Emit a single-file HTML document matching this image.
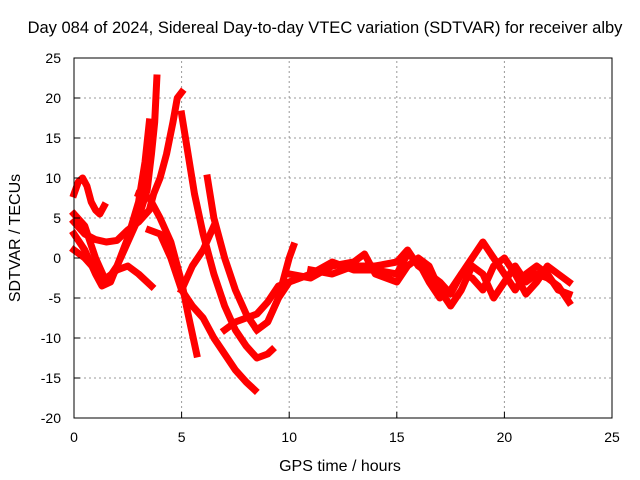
<!DOCTYPE html>
<html><head><meta charset="utf-8"><style>
body{margin:0;background:#fff}
svg{display:block;font-family:"Liberation Sans",sans-serif}
</style></head><body>
<svg id="chart" width="640" height="480" viewBox="0 0 640 480">
<rect width="640" height="480" fill="#fff"/>
<text x="325" y="33" font-size="16.5" text-anchor="middle">Day 084 of 2024, Sidereal Day-to-day VTEC variation (SDTVAR) for receiver alby</text>
<g id="grid"></g>
<g id="series"></g>
<rect x="74" y="58" width="538" height="360" fill="none" stroke="#000" stroke-width="1"/>
<g id="ticks"></g>
<text x="340" y="471" font-size="16" text-anchor="middle">GPS time / hours</text>
<text transform="translate(20,238) rotate(-90)" font-size="16" text-anchor="middle">SDTVAR / TECUs</text>
</svg>
<script>
const xTicks=[0,5,10,15,20,25];
const yTicks=[-20,-15,-10,-5,0,5,10,15,20,25];
const trackA=[[0,8],[0.2,9.5],[0.4,10],[0.6,9],[0.8,7],[1.0,6],[1.2,5.5],[1.4,6.5]];
const trackB=[[0,4.5],[0.5,3],[1,2.3],[1.5,2],[2,2.2],[2.5,3.5],[3,4.5],[3.5,6],[3.7,8],[4,10],[4.3,13],[4.6,17],[4.8,20],[5,20.7]];
const trackC=[[0,5.5],[0.5,4],[1,0],[1.5,-3],[2,-1],[2.5,2],[3,5],[3.4,8.5],[3.6,13],[3.75,17],[3.85,22.5]];
const trackD=[[0,3],[0.5,1],[1,-2],[1.3,-3.5],[1.7,-3],[2,-1],[2.5,2.5],[3,7],[3.3,12],[3.5,17]];
const trackE=[[0,1],[0.5,0],[1,-1.5],[1.5,-2.5],[2,-1.5],[2.5,-1],[3,-2],[3.6,-3.5]];
const trackF=[[3,8],[3.5,7.5],[4,5],[4.5,2],[5,-3],[5.3,-7],[5.7,-12]];
const trackG=[[3.5,3.5],[4,3],[4.5,0],[5,-4],[5.5,-6],[6,-7.5],[6.5,-10],[7,-12],[7.5,-14],[8,-15.5],[8.4,-16.5]];
const trackH=[[5,18],[5.3,13],[5.6,8],[6,3],[6.5,-2],[7,-6],[7.5,-9],[8,-11],[8.5,-12.5],[9,-12],[9.2,-11.5]];
const trackI=[[6.2,10],[6.5,5],[7,0],[7.5,-4],[8,-7],[8.5,-9],[9,-8],[9.5,-5],[10,0],[10.2,1.5]];
const trackJ=[[5,-4],[5.5,-1],[6,1],[6.5,4]];
const trackK=[[7,-9],[7.5,-8],[8,-7.5],[8.5,-7],[9,-5.5],[9.5,-3.5],[10,-3],[10.5,-2.5]];
const trackL1=[[8.5,-9],[9,-8],[9.5,-5],[10,-3],[11,-2],[12,-0.5],[13,-1.5],[14,-1.5],[15,-2],[15.5,0.5],[16,-0.5],[16.5,-3],[17,-5],[17.5,-4],[18,-2],[18.5,0],[19,2],[19.5,0],[20,-2],[20.5,-4],[21,-2],[21.5,-1],[22,-2],[22.5,-4],[23,-4.5]];
const trackL2=[[10,-2],[11,-2.5],[12,-1],[13,-0.5],[13.5,0.5],[14,-2],[15,-3],[15.5,-1],[16,0],[16.5,-1],[17,-4],[17.5,-6],[18,-4],[18.5,-1],[19,-2],[19.5,-5],[20,-3],[20.5,-1],[21,-3],[21.5,-2],[22,-2.5],[22.5,-3.5],[23,-5.5]];
const trackL3=[[11,-1.5],[12,-2],[13,-1],[14,-1],[15,-0.5],[15.5,1],[16,-1],[16.5,-2],[17,-3],[17.5,-4.5],[18,-2],[18.5,-2.5],[19,-4],[19.5,-1],[20,0],[20.5,-2],[21,-4.5],[21.5,-3],[22,-1],[22.5,-2],[23,-3]];
const tracks=[trackA,trackB,trackC,trackD,trackE,trackF,trackG,trackH,trackI,trackJ,trackK,trackL1,trackL2,trackL3];
const X0=74,X1=612,Y0=418,Y1=58;
function sx(v){return X0+(v-0)/(25-0)*(X1-X0);}
function sy(v){return Y0-(v+20)/(45)*(Y0-Y1);}
const NS="http://www.w3.org/2000/svg";
const grid=document.getElementById('grid'),ticks=document.getElementById('ticks'),ser=document.getElementById('series');
function mk(tag,attrs,parent){const e=document.createElementNS(NS,tag);for(const k in attrs)e.setAttribute(k,attrs[k]);parent.appendChild(e);return e;}
xTicks.forEach(t=>{
  const x=sx(t);
  if(t>0&&t<25){const g=mk('line',{x1:x,x2:x,y1:Y0,y2:Y1,stroke:'#999','stroke-dasharray':'2,3'},grid);
  
  }
  const l=mk('text',{x:x,y:Y0+24,'font-size':14,'text-anchor':'middle'},ticks);l.textContent=t;
  
  
  mk('line',{x1:x,x2:x,y1:Y0,y2:Y0-6,stroke:'#000'},ticks);
});
yTicks.forEach(t=>{
  const y=sy(t);
  if(t>-20&&t<25){const g=mk('line',{x1:X0,x2:X1,y1:y,y2:y,stroke:'#999','stroke-dasharray':'2,3'},grid);
  
  }
  const l=mk('text',{x:X0-13,y:y+5,'font-size':14,'text-anchor':'end'},ticks);l.textContent=t;
  
  
  mk('line',{x1:X0,x2:X0+6,y1:y,y2:y,stroke:'#000'},ticks);
});
tracks.forEach(tr=>{
  const p=mk('polyline',{points:tr.map(d=>sx(d[0])+','+sy(d[1])).join(' '),fill:'none',stroke:'#f00','stroke-width':7,'stroke-linejoin':'round','stroke-linecap':'square'},ser);
  
  
});
</script>
</body></html>
